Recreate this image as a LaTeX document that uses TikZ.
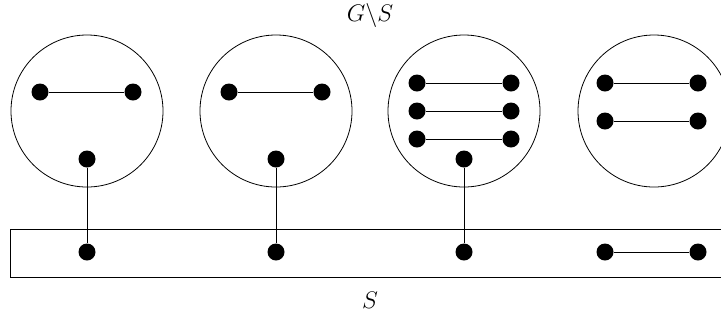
\documentclass[tikz,border=0pt]{standalone}
\usepackage{tikz}
\usetikzlibrary{positioning}
\tikzset{
  part/.style={draw,circle,minimum size=76pt,inner sep=0pt},
  vtx/.style={fill,circle,minimum size=8.5pt,inner sep=0pt},
  sep_box/.style={draw,minimum width=357.5pt,minimum height=24pt,inner sep=0pt,anchor=north west},
  lbl/.style={font=\large},
}
\begin{document}
\begin{tikzpicture}[x=0.5pt,y=-0.5pt]
    \useasboundingbox (0,0) rectangle (721,323);
    % components of G\S
    \node[part] (c1) at (87,111) {};
    \node[part] (c2) at (276,111) {};
    \node[part] (c3) at (464,111) {};
    \node[part] (c4) at (654,111) {};
    % separator S
    \node[sep_box] (sep) at (10,229) {};
    \node[lbl] (gs) at (370,15) {$G\backslash S$};
    \node[lbl] (s) at (370,300) {$S$};

    \node[vtx] (a1) at (40,92) {};\node[vtx] (b1) at (133,92) {};
    \node[vtx] (a2) at (229,92) {};\node[vtx] (b2) at (322,92) {};
    \node[vtx] (a3) at (417,83) {};\node[vtx] (b3) at (511,83) {};
    \node[vtx] (a4) at (417,111) {};\node[vtx] (b4) at (511,111) {};
    \node[vtx] (a5) at (417,139) {};\node[vtx] (b5) at (511,139) {};
    \node[vtx] (a6) at (605,83) {};\node[vtx] (b6) at (698,83) {};
    \node[vtx] (a7) at (605,121) {};\node[vtx] (b7) at (698,121) {};
    \node[vtx] (u1) at (87,159) {};\node[vtx] (s1) at (87,252) {};
    \node[vtx] (u2) at (276,159) {};\node[vtx] (s2) at (276,252) {};
    \node[vtx] (u3) at (464,159) {};\node[vtx] (s3) at (464,252) {};
    \node[vtx] (s4) at (605,252) {};\node[vtx] (s5) at (698,252) {};

    \foreach \i in {1,...,7} {\draw (a\i)--(b\i);}
    \foreach \i in {1,2,3} {\draw (u\i)--(s\i);}
    \draw (s4)--(s5);
  \end{tikzpicture}
\end{document}
